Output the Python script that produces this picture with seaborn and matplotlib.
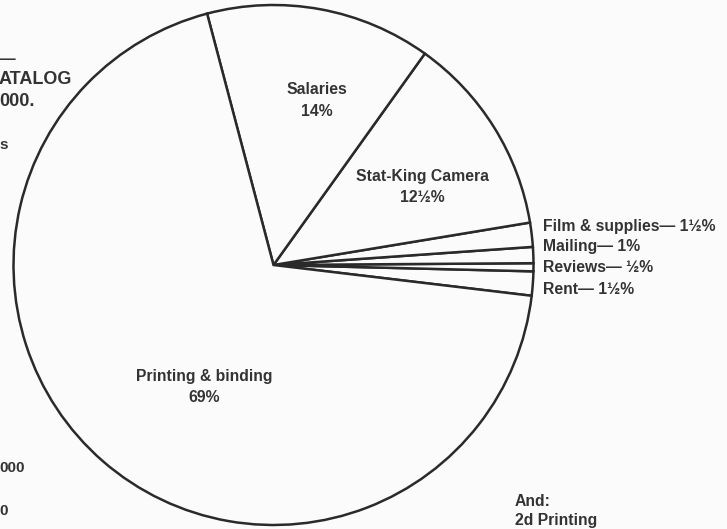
import matplotlib
matplotlib.use("Agg")
import matplotlib.pyplot as plt
import seaborn as sns

# ---- data ----
categories = ["Rent", "Reviews", "Mailing", "Film & supplies",
              "Stat-King Camera", "Salaries", "Printing & binding"]
shares = [1.5, 0.5, 1.0, 1.5, 12.5, 14.0, 69.0]
share_labels = ["1½%", "½%", "1%", "1½%", "12½%", "14%", "69%"]
side_fragments = ["—", "ATALOG", "000.", "s", "000", "0"]
footnote = ["And:", "2d Printing"]

sns.set_theme(style="white")
plt.rcParams["font.family"] = ["Liberation Sans", "DejaVu Sans"]

W, H = 727, 529
bg = "#fbfbfb"
ink = "#2a2a2a"
fig = plt.figure(figsize=(W / 100, H / 100), dpi=100, facecolor=bg)
ax = fig.add_axes([0, 0, 1, 1])
ax.set_facecolor(bg)

cx, cy, r = 273.5, 265, 260
wedges, _ = ax.pie(shares, startangle=-6.8, counterclock=True,
                   center=(cx, cy), radius=r, frame=True,
                   colors=[bg] * len(shares),
                   wedgeprops=dict(edgecolor=ink, linewidth=1.8))
# y axis runs downward (pixel-like), so mirror wedge angles
for w in wedges:
    t1, t2 = w.theta1, w.theta2
    w.set_theta1(-t2)
    w.set_theta2(-t1)
ax.set_xlim(0, W)
ax.set_ylim(H, 0)
ax.set_aspect("equal")
ax.axis("off")

fs = 11.3
txt = "#333333"
kw = dict(color=txt, fontsize=fs, fontweight="bold", ha="center", va="center")
# large slice labels
big_pos = {"Salaries": (317, 90, 111),
           "Stat-King Camera": (422, 176, 197),
           "Printing & binding": (204, 377, 398)}
for name, lab in zip(categories, share_labels):
    if name in big_pos:
        x, y1, y2 = big_pos[name]
        ax.text(x, y1, name, **kw)
        ax.text(x, y2, lab, **kw)

# small slice labels
small_y = {"Film & supplies": 226, "Mailing": 247, "Reviews": 268, "Rent": 289}
for name, lab in zip(categories, share_labels):
    if name in small_y:
        ax.text(543, small_y[name], f"{name}— {lab}", color=txt,
                fontsize=fs, fontweight="bold", ha="left", va="center")

# cropped text fragments on the left edge
frag_y = [60, 80, 102, 145, 468, 511]
frag_fs = [12, 13, 13, 11, 11, 11]
for t, y, f in zip(side_fragments, frag_y, frag_fs):
    ax.text(-1, y, t, color=txt, fontsize=f, fontweight="bold",
            ha="left", va="center")

for t, y in zip(footnote, [502, 520]):
    ax.text(515, y, t, color=txt, fontsize=fs, fontweight="bold",
            ha="left", va="center")

fig.savefig("out.png", dpi=100, facecolor=bg)
